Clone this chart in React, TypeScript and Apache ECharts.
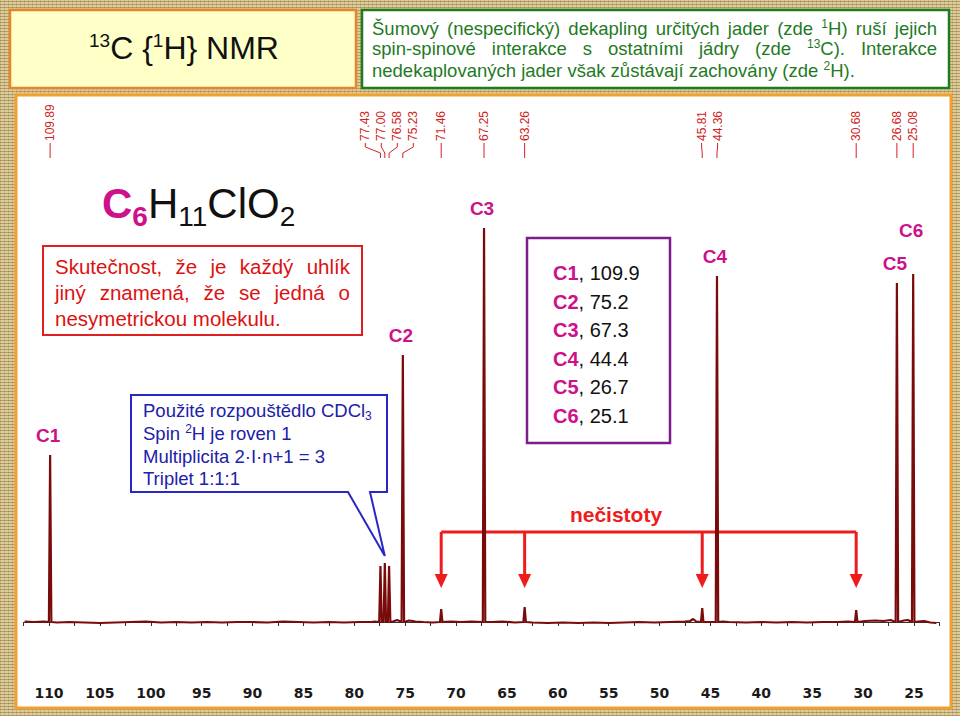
import React, { useEffect, useRef } from 'react';
import * as echarts from 'echarts';

// ---- data ----
const peakPpm = [109.89, 77.43, 77.0, 76.58, 75.23, 71.46, 67.25, 63.26, 45.81, 44.36, 30.68, 26.68, 25.08];
const peakHeight = [167, 56, 59, 56, 267, 13, 394, 15, 14, 346, 12, 339, 348];
const peakLabels = ['109.89', '77.43', '77.00', '76.58', '75.23', '71.46', '67.25', '63.26', '45.81', '44.36', '30.68', '26.68', '25.08'];

const baselinePpm = [112.4, 111.5, 110.5, 109.2, 108, 106.5, 105, 103.5, 102, 100.5, 99, 97.5, 96, 94.5, 93, 91.5, 90, 88.5, 87, 85.5, 84, 82.5, 81, 79.5, 78.3, 78.0, 76.2, 75.8, 74.6, 74.0, 73.2, 72.3, 70.5, 69.5, 68.5, 66.5, 65.5, 64.2, 62.5, 61, 59.5, 58, 56.5, 55, 53.5, 52, 50.5, 49, 47.5, 47.0, 46.7, 46.4, 43.8, 43.2, 41.5, 40, 38.5, 37, 35.5, 34, 32.5, 31.5, 29.8, 28.8, 28, 27.3, 26.0, 25.6, 24.6, 24.0, 23.4, 22.8];
const baselineVal = [0.5, 0, 0.5, -0.5, 0, -0.5, -1, -0.5, 0, 0.5, -0.5, 0, -0.5, 0, -0.5, 0, 0, -0.5, 0.5, 0, -0.5, 0, -0.5, 0, 0, 0.5, 0.5, 2, 1.5, 0.5, 0, -0.5, 0.5, 0, 0.5, 0, 0.5, -0.5, -0.5, -1, -0.5, -1, -0.5, -1, -0.5, 0, -0.5, 0, 0.5, 1, 3, 0.5, 0.5, 0, -0.5, 0, -0.5, 0, -0.5, 0, 0, 0.5, 1, 1.5, 1, 2, 1.5, 2, 0.5, 1, -0.5, -1];

const carbonNames = ['C1', 'C2', 'C3', 'C4', 'C5', 'C6'];
const carbonShift = ['109.9', '75.2', '67.3', '44.4', '26.7', '25.1'];
const carbonPeakPpm = [109.89, 75.23, 67.25, 44.36, 26.68, 25.08];
const impurityPpm = [71.46, 63.26, 45.81, 30.68];
const xTickLabels = [110, 105, 100, 95, 90, 85, 80, 75, 70, 65, 60, 55, 50, 45, 40, 35, 30, 25];

const X_MIN = 22.5;
const X_MAX = 112.5;
const X_INTERVAL = 2.5;

// ---- styles ----
const FONT = 'Liberation Sans';
const MAG = '#cc118a';
const SPEC = '#7a0b0b';
const LABEL_RED = '#d02424';
const K = 0.35;
const FOOT = 0.12;

type Run = { t: string; s: number; c: string; w?: string; dy?: number };

export default function App() {
  const ref = useRef<HTMLDivElement>(null);

  useEffect(() => {
    const chart = echarts.init(ref.current!, null, { renderer: 'svg' });
    const pts: number[][] = [];
    baselinePpm.forEach((p, i) => pts.push([p, baselineVal[i]]));
    peakPpm.forEach((p, i) => {
      pts.push([p + FOOT, 0], [p, peakHeight[i]], [p - FOOT, 0]);
    });
    pts.sort((a, b) => b[0] - a[0]);

    chart.setOption({
      animation: false,
      grid: { left: 23.56, right: 20.56, top: 117, bottom: 39, containLabel: false },
      xAxis: {
        type: 'value',
        inverse: true,
        min: X_MIN,
        max: X_MAX,
        interval: X_INTERVAL,
        splitLine: { show: false },
        axisLine: { lineStyle: { color: '#333', width: 1 } },
        axisTick: { length: 4, lineStyle: { color: '#333' } },
        axisLabel: {
          margin: 9,
          color: '#1a1a1a',
          fontFamily: 'DejaVu Sans',
          fontWeight: 'bold',
          fontSize: 14,
          formatter: (v: number) => (xTickLabels.indexOf(Math.round(v * 100) / 100) >= 0 ? String(v) : ''),
        },
      },
      yAxis: { type: 'value', min: -55, max: 505, show: false },
      series: [
        {
          type: 'line',
          data: pts,
          symbol: 'none',
          silent: true,
          z: 3,
          lineStyle: { color: SPEC, width: 2.2 },
        },
      ],
    });

    const X = (ppm: number) => chart.convertToPixel({ xAxisIndex: 0 }, ppm) as number;
    const Y = (v: number) => chart.convertToPixel({ yAxisIndex: 0 }, v) as number;

    const ctx = document.createElement('canvas').getContext('2d')!;
    const rw = (r: Run) => {
      ctx.font = `${r.w || 'normal'} ${r.s}px "${FONT}"`;
      return ctx.measureText(r.t).width;
    };
    const els: any[] = [];
    const txt = (t: string, x: number, y: number, s: number, c: string, w = 'normal', align = 'left', extra: any = {}) => ({
      type: 'text',
      x,
      y,
      z: 20,
      silent: true,
      ...extra,
      style: {
        text: t, fill: c, fontSize: s, fontFamily: FONT, fontWeight: w,
        align, verticalAlign: 'middle', textAlign: align, textVerticalAlign: 'middle',
      },
    });
    const place = (runs: Run[], x: number, yc: number, main: number) => {
      const base = yc + K * main;
      let xx = x;
      runs.forEach((r) => {
        els.push(txt(r.t, xx, base - K * r.s + (r.dy || 0), r.s, r.c, r.w));
        xx += rw(r);
      });
      return xx - x;
    };
    const width = (runs: Run[]) => runs.reduce((s, r) => s + rw(r), 0);
    const plain = (str: string, s: number, c: string, w?: string): Run[][] =>
      str.split(' ').map((t) => [{ t, s, c, w }]);
    const line = (words: Run[][], x: number, yc: number, main: number, justify: number | null) => {
      const ww = words.map(width);
      const tot = ww.reduce((a, b) => a + b, 0);
      let gap = rw({ t: ' ', s: main, c: '' });
      if (justify != null && words.length > 1) gap = Math.max(2, (justify - tot) / (words.length - 1));
      let xx = x;
      words.forEach((w, i) => {
        place(w, xx, yc, main);
        xx += ww[i] + gap;
      });
    };

    // backgrounds
    const rect = (x: number, y: number, w: number, h: number, fill: string, stroke: string, lw: number, z = 1) => ({
      type: 'rect', z, silent: true, shape: { x, y, width: w, height: h }, style: { fill, stroke, lineWidth: lw },
    });
    els.push(rect(16, 95, 935, 613, '#ffffff', '#f2a12e', 3, -1));
    els.push(rect(10, 10, 346, 78, '#ffffc8', '#e8842c', 2.5));
    els.push(rect(362, 10, 587, 78, '#ffffff', '#1e7b1e', 2.5));
    els.push(rect(43, 246, 319, 89, '#ffffff', '#e02020', 2));
    els.push(rect(527, 238, 143, 205, '#ffffff', '#7d1e8c', 2.5));

    // header left
    const hdr: Run[] = [
      { t: '13', s: 19, c: '#111', dy: -12 },
      { t: 'C {', s: 32, c: '#111' },
      { t: '1', s: 19, c: '#111', dy: -12 },
      { t: 'H} NMR', s: 32, c: '#111' },
    ];
    place(hdr, 184 - width(hdr) / 2, 48, 32);

    // header right (green, justified)
    const G = '#1f7a1f';
    const gs = 18.5;
    const sup = (t: string): Run => ({ t, s: 12, c: G, dy: -6 });
    line([...plain('Šumový (nespecifický) dekapling určitých jader (zde', gs, G), [sup('1'), { t: 'H)', s: gs, c: G }], ...plain('ruší jejich', gs, G)], 372, 28, gs, 565);
    line([...plain('spin-spinové interakce s ostatními jádry (zde', gs, G), [sup('13'), { t: 'C).', s: gs, c: G }], ...plain('Interakce', gs, G)], 372, 48, gs, 565);
    line([...plain('nedekaplovaných jader však zůstávají zachovány (zde', gs, G), [sup('2'), { t: 'H).', s: gs, c: G }]], 372, 70, gs, null);

    // formula
    place([
      { t: 'C', s: 42, c: MAG, w: 'bold' },
      { t: '6', s: 28, c: MAG, w: 'bold', dy: 9 },
      { t: 'H', s: 42, c: '#111' },
      { t: '11', s: 28, c: '#111', dy: 9 },
      { t: 'ClO', s: 42, c: '#111' },
      { t: '2', s: 28, c: '#111', dy: 9 },
    ], 102, 203, 42);

    // red box text
    const R = '#dd1111';
    line(plain('Skutečnost, že je každý uhlík', 20.5, R), 55, 266, 20.5, 295);
    line(plain('jiný znamená, že se jedná o', 20.5, R), 55, 292, 20.5, 295);
    line(plain('nesymetrickou molekulu.', 20.5, R), 55, 318, 20.5, null);

    // blue callout
    const tipX = X(77.0);
    const tipY = Y(peakHeight[2]) - 7;
    els.push({
      type: 'polygon', z: 1, silent: true,
      shape: { points: [[131, 395], [387, 395], [387, 492], [370, 492], [tipX, tipY], [348, 492], [131, 492]] },
      style: { fill: '#ffffff', stroke: '#2828c8', lineWidth: 2 },
    });
    const B = '#2020a8';
    place([{ t: 'Použité rozpouštědlo CDCl', s: 18.5, c: B }, { t: '3', s: 12, c: B, dy: 4 }], 143, 410, 18.5);
    place([{ t: 'Spin ', s: 18.5, c: B }, { t: '2', s: 12, c: B, dy: -6 }, { t: 'H je roven 1', s: 18.5, c: B }], 143, 433, 18.5);
    place([{ t: 'Multiplicita 2·I·n+1 = 3', s: 18.5, c: B }], 143, 456, 18.5);
    place([{ t: 'Triplet 1:1:1', s: 18.5, c: B }], 143, 478, 18.5);

    // purple box list
    carbonNames.forEach((n, i) => {
      place([{ t: n, s: 20, c: MAG, w: 'bold' }, { t: ', ' + carbonShift[i], s: 20, c: '#111' }], 553, 273 + i * 28.5, 20);
    });

    // carbon labels above peaks
    let prev: { x: number; y: number } | null = null;
    carbonPeakPpm.forEach((p, i) => {
      const x = X(p);
      let y = Y(peakHeight[peakPpm.indexOf(p)]) - 20;
      if (prev && Math.abs(x - prev.x) < 28 && Math.abs(y - prev.y) < 24) y = prev.y - 33;
      els.push(txt(carbonNames[i], x - 2, y, 19, MAG, 'bold', 'center'));
      prev = { x, y };
    });

    // impurities
    const RR = '#ee1c1c';
    els.push(txt('nečistoty', 616, 514, 21, RR, 'bold', 'center'));
    const ix = impurityPpm.map(X);
    els.push({ type: 'line', z: 1, silent: true, shape: { x1: Math.min(...ix), y1: 532, x2: Math.max(...ix), y2: 532 }, style: { stroke: RR, lineWidth: 3 } });
    ix.forEach((x) => {
      els.push({ type: 'line', z: 1, silent: true, shape: { x1: x, y1: 532, x2: x, y2: 575 }, style: { stroke: RR, lineWidth: 3 } });
      els.push({ type: 'polygon', z: 1, silent: true, shape: { points: [[x - 6.5, 574], [x + 6.5, 574], [x, 588]] }, style: { fill: RR } });
    });

    // peak-pick labels at the top
    const px = peakPpm.map(X);
    const gapPx = 16;
    let groups = px.map((x, i) => ({ start: i, n: 1, center: x }));
    let changed = true;
    while (changed) {
      changed = false;
      for (let i = 0; i < groups.length - 1; i++) {
        const a = groups[i];
        const b = groups[i + 1];
        const aEnd = a.center + ((a.n - 1) * gapPx) / 2;
        const bStart = b.center - ((b.n - 1) * gapPx) / 2;
        if (bStart - aEnd < gapPx - 1) {
          const n = a.n + b.n;
          const mem = px.slice(a.start, a.start + n);
          const c = mem.reduce((s, v) => s + v, 0) / n;
          groups.splice(i, 2, { start: a.start, n, center: c });
          changed = true;
          break;
        }
      }
    }
    const lx: number[] = [];
    groups.forEach((g) => {
      for (let k = 0; k < g.n; k++) lx.push(g.center + (k - (g.n - 1) / 2) * gapPx);
    });
    peakLabels.forEach((t, i) => {
      els.push(txt(t, lx[i], 141, 12, LABEL_RED, 'normal', 'left', { rotation: Math.PI / 2 }));
      els.push({
        type: 'polyline', z: 20, silent: true,
        shape: { points: [[lx[i], 143], [lx[i], 147], [px[i], 153], [px[i], 158]] },
        style: { stroke: LABEL_RED, lineWidth: 1, fill: null },
      });
    });

    chart.setOption({ graphic: { elements: els } });
    return () => chart.dispose();
  }, []);

  return (
    <div
      ref={ref}
      style={{
        position: 'fixed',
        left: 0,
        top: 0,
        width: 960,
        height: 716,
        backgroundColor: '#d2bd85',
        backgroundImage:
          'repeating-linear-gradient(0deg, rgba(110,80,30,0.3) 0px, rgba(110,80,30,0.3) 1px, rgba(255,250,220,0.25) 1px, rgba(255,250,220,0.25) 3px), repeating-linear-gradient(90deg, rgba(110,80,30,0.25) 0px, rgba(110,80,30,0.25) 1px, transparent 1px, transparent 4px)',
      }}
    />
  );
}
